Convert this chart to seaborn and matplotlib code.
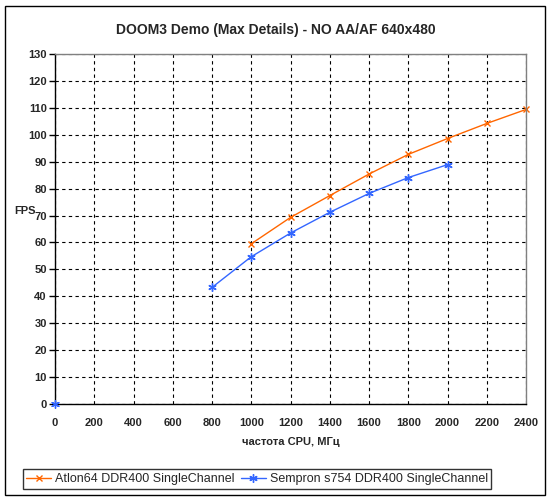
import numpy as np
import pandas as pd
import matplotlib
matplotlib.use("Agg")
import matplotlib.pyplot as plt
import seaborn as sns
from matplotlib.patches import Rectangle
from matplotlib.lines import Line2D

# data
athlon_mhz = [1000, 1200, 1400, 1600, 1800, 2000, 2200, 2400]
athlon_fps = [59.5, 69.3, 77.4, 85.4, 92.7, 98.6, 104.2, 109.4]
sempron_mhz = [800, 1000, 1200, 1400, 1600, 1800, 2000]
sempron_fps = [43.3, 54.7, 63.5, 71.2, 78.2, 84.1, 88.9]
sempron_zero_mhz = [0]
sempron_zero_fps = [0]
x_ticks = list(range(0, 2401, 200))
y_ticks = list(range(0, 131, 10))

athlon_name = "Atlon64 DDR400 SingleChannel"
sempron_name = "Sempron s754 DDR400 SingleChannel"
orange = "#FF6600"
blue = "#3366FF"
star = (6, 2, 0)

sns.set_style("white")
plt.rcParams['font.family'] = ['Liberation Sans', 'DejaVu Sans']

fig = plt.figure(figsize=(5.51, 5.01), dpi=100)
ax = fig.add_axes([55 / 551, 1 - 404 / 501, 471 / 551, 350 / 501])

df_a = pd.DataFrame({"mhz": athlon_mhz, "fps": athlon_fps})
df_s = pd.DataFrame({"mhz": sempron_mhz, "fps": sempron_fps})
sns.lineplot(data=df_a, x="mhz", y="fps", ax=ax, color=orange, lw=1,
             marker="x", markersize=5, mew=1, mec=orange, clip_on=False)
sns.lineplot(data=df_s, x="mhz", y="fps", ax=ax, color=blue, lw=1,
             marker=star, markersize=6, mew=1, mec=blue, clip_on=False)
sns.scatterplot(x=sempron_zero_mhz, y=sempron_zero_fps, ax=ax, color=blue,
                marker=star, s=30, linewidth=1, edgecolor=blue, clip_on=False, zorder=5)

ax.set_xlim(0, 2400)
ax.set_ylim(0, 130)
ax.set_xticks(x_ticks)
ax.set_yticks(y_ticks)
ax.grid(True, color="black", linestyle=(0, (3, 3)), linewidth=0.8)
ax.set_axisbelow(True)
for s in ["top", "right"]:
    ax.spines[s].set_color("#808080")
    ax.spines[s].set_linewidth(1)
for s in ["left", "bottom"]:
    ax.spines[s].set_color("black")
    ax.spines[s].set_linewidth(1)
ax.tick_params(axis="y", length=4, width=1, color="black", direction="out",
               left=True, pad=2, labelsize=8)
ax.tick_params(axis="x", length=0, pad=10, labelsize=8)
for lab in ax.get_xticklabels() + ax.get_yticklabels():
    lab.set_fontweight("bold")
ax.set_xlabel("")
ax.set_ylabel("")

fig.text(0.5, 1 - 30 / 501, "DOOM3 Demo (Max Details) - NO AA/AF 640x480",
         ha="center", va="center", fontsize=10, fontweight="bold")
fig.text(25 / 551, 1 - 211 / 501, "FPS", ha="center", va="center",
         fontsize=8, fontweight="bold")
fig.text(291 / 551, 1 - 442 / 501, "частота CPU, МГц", ha="center", va="center",
         fontsize=8, fontweight="bold")

handles = [Line2D([], [], color=orange, lw=1, marker="x", markersize=5, mew=1),
           Line2D([], [], color=blue, lw=1, marker=star, markersize=6, mew=1)]
leg = fig.legend(handles, [athlon_name, sempron_name], loc="center",
                 bbox_to_anchor=(257 / 551, 1 - 479 / 501), ncol=2, fontsize=9,
                 frameon=True, fancybox=False, edgecolor="black", handlelength=2.0,
                 handletextpad=0.3, columnspacing=0.5, borderpad=0.3,
                 borderaxespad=0)
leg.get_frame().set_linewidth(1)

fig.patches.append(Rectangle((5 / 551, 6 / 501), 540 / 551, 489 / 501,
                             transform=fig.transFigure, fill=False,
                             edgecolor="black", linewidth=1))

fig.savefig("out.png", dpi=100)
